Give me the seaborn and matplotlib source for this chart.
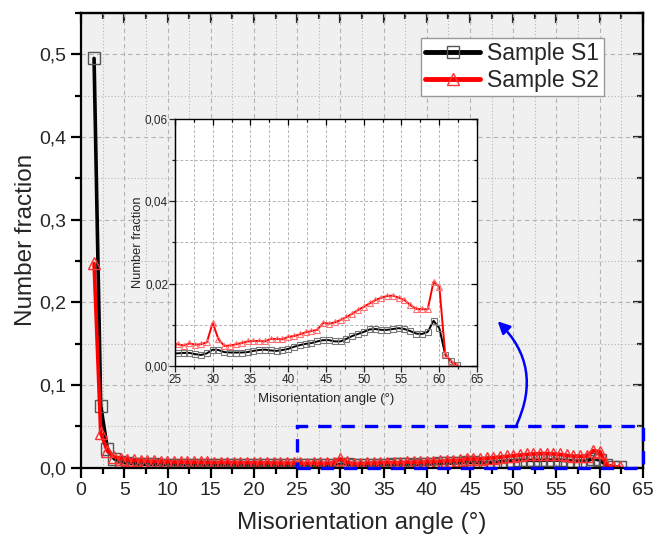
import numpy as np
import pandas as pd
import matplotlib
matplotlib.use("Agg")
import matplotlib.pyplot as plt
from matplotlib.ticker import MultipleLocator, FuncFormatter
from matplotlib.patches import Rectangle
import seaborn as sns

angle = [1.50, 2.27, 3.04, 3.81, 4.58, 5.35, 6.12, 6.89, 7.66, 8.43,
         9.20, 9.97, 10.74, 11.51, 12.28, 13.05, 13.82, 14.59, 15.36, 16.13,
         16.90, 17.67, 18.44, 19.21, 19.98, 20.75, 21.52, 22.29, 23.06, 23.83,
         24.60, 25.37, 26.14, 26.91, 27.68, 28.45, 29.22, 29.99, 30.76, 31.53,
         32.30, 33.07, 33.84, 34.61, 35.38, 36.15, 36.92, 37.69, 38.46, 39.23,
         40.00, 40.77, 41.54, 42.31, 43.08, 43.85, 44.62, 45.39, 46.16, 46.93,
         47.70, 48.47, 49.24, 50.01, 50.78, 51.55, 52.32, 53.09, 53.86, 54.63,
         55.40, 56.17, 56.94, 57.71, 58.48, 59.25, 60.02, 60.79, 61.56, 62.33]

s1 = [0.495, 0.075, 0.023, 0.011, 0.0070, 0.0055, 0.0048, 0.0043, 0.0040, 0.0038,
      0.0037, 0.0036, 0.0035, 0.0035, 0.0035, 0.0034, 0.0034, 0.0034, 0.0033, 0.0033,
      0.0033, 0.0033, 0.0032, 0.0032, 0.0032, 0.0032, 0.0031, 0.0031, 0.0031, 0.0031,
      0.0031, 0.0031, 0.0032, 0.0032, 0.0029, 0.0027, 0.0031, 0.0040, 0.0039, 0.0034,
      0.0033, 0.0033, 0.0033, 0.0034, 0.0037, 0.0039, 0.0040, 0.0038, 0.0037, 0.0039,
      0.0042, 0.0047, 0.0051, 0.0054, 0.0056, 0.0060, 0.0063, 0.0063, 0.0060, 0.0060,
      0.0066, 0.0073, 0.0078, 0.0083, 0.0089, 0.0090, 0.0088, 0.0088, 0.0090, 0.0092,
      0.0090, 0.0085, 0.0079, 0.0078, 0.0083, 0.0110, 0.0092, 0.0028, 0.0012, 0.0002]

s2 = [0.247, 0.042, 0.020, 0.013, 0.011, 0.0095, 0.0088, 0.0082, 0.0078, 0.0075,
      0.0072, 0.0070, 0.0068, 0.0067, 0.0066, 0.0065, 0.0064, 0.0063, 0.0062, 0.0062,
      0.0061, 0.0060, 0.0060, 0.0059, 0.0058, 0.0058, 0.0057, 0.0057, 0.0056, 0.0055,
      0.0054, 0.0053, 0.0050, 0.0055, 0.0052, 0.0053, 0.0058, 0.0105, 0.0065, 0.0049,
      0.0050, 0.0053, 0.0056, 0.0060, 0.0061, 0.0061, 0.0060, 0.0066, 0.0066, 0.0065,
      0.0071, 0.0073, 0.0077, 0.0082, 0.0085, 0.0088, 0.0105, 0.0103, 0.0106, 0.0112,
      0.0119, 0.0127, 0.0136, 0.0144, 0.0152, 0.0160, 0.0166, 0.0170, 0.0171, 0.0166,
      0.0160, 0.0148, 0.0139, 0.0138, 0.0138, 0.0205, 0.0192, 0.0030, 0.0010, 0.0002]

labels = ["Sample S1", "Sample S2"]

sns.set_style("white")
plt.rcParams["font.family"] = ["Liberation Sans", "DejaVu Sans"]

df1 = pd.DataFrame({"angle": angle, "frac": s1})
df2 = pd.DataFrame({"angle": angle, "frac": s2})

fig = plt.figure(figsize=(6.54, 5.40), dpi=100)
ax = fig.add_axes([0.124, 0.134, 0.859, 0.842])
ax.set_facecolor("#f0f0f0")

sns.lineplot(data=df1, x="angle", y="frac", ax=ax, color="black", lw=2.6,
             marker="s", ms=8, mfc="none", mec="#555555", mew=1.0, label=labels[0])
sns.lineplot(data=df2, x="angle", y="frac", ax=ax, color="red", lw=2.6,
             marker="^", ms=9, mfc="none", mec="#ff3030", mew=1.0, label=labels[1])

ax.set_xlim(0, 65)
ax.set_ylim(0, 0.55)
ax.xaxis.set_major_locator(MultipleLocator(5))
ax.xaxis.set_minor_locator(MultipleLocator(2.5))
ax.yaxis.set_major_locator(MultipleLocator(0.1))
ax.yaxis.set_minor_locator(MultipleLocator(0.05))
ax.yaxis.set_major_formatter(FuncFormatter(lambda v, p: f"{v:.1f}".replace(".", ",")))
ax.grid(which="major", color="#b4b4b4", ls=(0, (4, 3)), lw=0.8)
ax.grid(which="minor", color="#b4b4b4", ls=(0, (1, 2)), lw=0.8)
ax.set_axisbelow(True)
for s in ax.spines.values():
    s.set_linewidth(1.6)
    s.set_color("black")
ax.tick_params(which="both", bottom=True, left=True, top=False, right=False,
               direction="out", labelsize=14, width=1.6, color="black")
ax.tick_params(which="major", length=7)
ax.tick_params(which="minor", length=4)
ax2t = ax.secondary_xaxis("top")
ax2t.xaxis.set_major_locator(MultipleLocator(5))
ax2t.xaxis.set_minor_locator(MultipleLocator(2.5))
ax2t.tick_params(which="both", direction="in", labeltop=False, width=1.6)
ax2t.tick_params(which="major", length=7)
ax2t.tick_params(which="minor", length=4)
ax2t.spines["top"].set_linewidth(1.6)
ax2r = ax.secondary_yaxis("right")
ax2r.yaxis.set_major_locator(MultipleLocator(0.1))
ax2r.yaxis.set_minor_locator(MultipleLocator(0.05))
ax2r.tick_params(which="both", direction="in", labelright=False, width=1.6)
ax2r.tick_params(which="major", length=7)
ax2r.tick_params(which="minor", length=4)
ax2r.spines["right"].set_linewidth(1.6)

ax.set_xlabel("Misorientation angle (°)", fontsize=17.5, labelpad=9)
ax.set_ylabel("Number fraction", fontsize=17.5, labelpad=2)

leg = ax.legend(loc="upper right", bbox_to_anchor=(0.93, 0.946), fontsize=16.5,
                frameon=True, fancybox=False, framealpha=1, edgecolor="#999999",
                handlelength=2.4, handletextpad=0.3, borderpad=0.2, labelspacing=0.15,
                borderaxespad=0)
for h in leg.get_lines():
    h.set_linewidth(3.5)
    h.set_markersize(8)

rect = Rectangle((25, 0), 40, 0.05, fill=False, ec="#0000ff", lw=2.4,
                 ls=(0, (4, 3)), clip_on=False, zorder=5)
ax.add_patch(rect)
ax.annotate("", xy=(48.2, 0.177), xytext=(50.4, 0.052),
            arrowprops=dict(arrowstyle="-|>", color="#0000ff", lw=1.8,
                            connectionstyle="arc3,rad=0.35", shrinkA=0, shrinkB=0,
                            mutation_scale=18))

# inset
axi = fig.add_axes([0.2676, 0.322, 0.4617, 0.458])
axi.set_facecolor("white")
sns.lineplot(data=df1, x="angle", y="frac", ax=axi, color="black", lw=1.4,
             marker="s", ms=5, mfc="none", mec="#777777", mew=0.8, legend=False)
sns.lineplot(data=df2, x="angle", y="frac", ax=axi, color="red", lw=1.4,
             marker="^", ms=5, mfc="none", mec="#ff7070", mew=0.8, legend=False)
axi.set_xlim(25, 65)
axi.set_ylim(0, 0.06)
axi.xaxis.set_major_locator(MultipleLocator(5))
axi.xaxis.set_minor_locator(MultipleLocator(2.5))
axi.yaxis.set_major_locator(MultipleLocator(0.02))
axi.yaxis.set_minor_locator(MultipleLocator(0.01))
axi.yaxis.set_major_formatter(FuncFormatter(lambda v, p: f"{v:.2f}".replace(".", ",")))
axi.grid(which="both", color="#b4b4b4", ls=(0, (3, 2)), lw=0.7)
axi.set_axisbelow(True)
for s in axi.spines.values():
    s.set_linewidth(1.0)
    s.set_color("black")
axi.tick_params(which="both", bottom=True, left=True, top=True, right=True,
                labelsize=8.5, width=0.9, color="black", pad=2)
axi.tick_params(which="both", direction="in")
axi.tick_params(which="both", axis="x", bottom=False)
axi.tick_params(which="both", axis="y", left=False)
axi.tick_params(which="major", length=4)
axi.tick_params(which="minor", length=2.5)
axb = axi.secondary_xaxis("bottom")
axb.xaxis.set_major_locator(MultipleLocator(5))
axb.xaxis.set_minor_locator(MultipleLocator(2.5))
axb.tick_params(which="both", direction="out", labelbottom=False, width=0.9)
axb.tick_params(which="major", length=4)
axb.tick_params(which="minor", length=2.5)
axl = axi.secondary_yaxis("left")
axl.yaxis.set_major_locator(MultipleLocator(0.02))
axl.yaxis.set_minor_locator(MultipleLocator(0.01))
axl.tick_params(which="both", direction="out", labelleft=False, width=0.9)
axl.tick_params(which="major", length=4)
axl.tick_params(which="minor", length=2.5)
axi.tick_params(axis="x", pad=6)
axi.tick_params(axis="y", pad=5)
axi.set_xlabel("Misorientation angle (°)", fontsize=9.5, labelpad=5)
axi.set_ylabel("Number fraction", fontsize=9.3, labelpad=1)

fig.savefig("out.png", dpi=100, facecolor="white")
